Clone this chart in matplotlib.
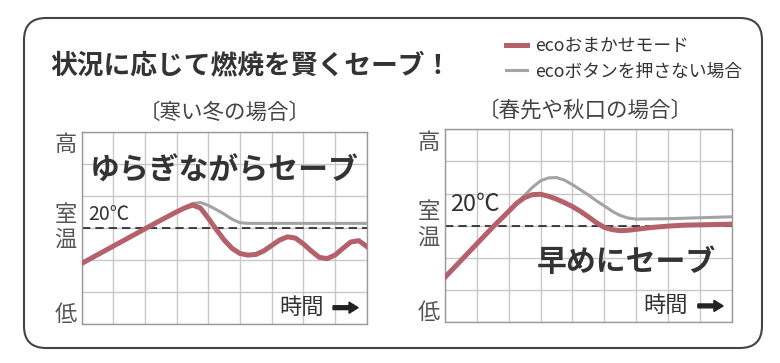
import matplotlib
matplotlib.use('Agg')
import matplotlib.pyplot as plt
from matplotlib.patches import FancyBboxPatch
from matplotlib.transforms import IdentityTransform

plt.rcParams['font.family'] = ['Noto Sans CJK JP', 'DejaVu Sans']

# grid units: x 0..9 (time), y 0..6 (low -> high), 20C at y=3
set_temp = 3

# 寒い冬の場合
winter_eco_x = [0, 0.5, 1, 1.5, 2, 2.5, 3, 3.25, 3.5, 3.75, 4.0, 4.25, 4.5, 4.75, 5.0,
                5.25, 5.5, 5.75, 6.0, 6.25, 6.5, 6.75, 7.0, 7.25, 7.5, 7.75, 8.0,
                8.25, 8.5, 8.75, 9.0]
winter_eco_y = [1.89, 2.16, 2.43, 2.70, 2.97, 3.24, 3.50, 3.62, 3.71, 3.62, 3.30, 2.95,
                2.62, 2.36, 2.20, 2.15, 2.17, 2.28, 2.45, 2.62, 2.72, 2.68, 2.50, 2.28,
                2.08, 2.04, 2.15, 2.36, 2.56, 2.60, 2.42]
winter_off_x = [0, 0.5, 1, 1.5, 2, 2.5, 3, 3.25, 3.5, 3.75, 4.0, 4.25, 4.5, 4.75, 5.0,
                5.25, 5.5, 9.0]
winter_off_y = [1.89, 2.16, 2.43, 2.70, 2.97, 3.24, 3.50, 3.62, 3.76, 3.79, 3.70, 3.57,
                3.43, 3.27, 3.16, 3.14, 3.14, 3.14]

# 春先や秋口の場合
spring_eco_x = [0, 0.5, 1, 1.5, 2.0, 2.25, 2.5, 2.75, 3.0, 3.25, 3.5, 3.75, 4.0, 4.25,
                4.5, 4.75, 5.0, 5.25, 5.5, 5.75, 6.0, 6.5, 7.0, 7.5, 8.0, 9.0]
spring_eco_y = [1.40, 1.92, 2.44, 2.96, 3.45, 3.70, 3.88, 3.97, 3.98, 3.92, 3.83, 3.72,
                3.60, 3.45, 3.28, 3.10, 2.95, 2.88, 2.85, 2.86, 2.89, 2.95, 2.99, 3.02,
                3.03, 3.05]
spring_off_x = [0, 0.5, 1, 1.5, 2.0, 2.25, 2.5, 2.75, 3.0, 3.25, 3.5, 3.75, 4.0, 4.25,
                4.5, 4.75, 5.0, 5.25, 5.5, 5.75, 6.0, 7.0, 8.0, 9.0]
spring_off_y = [1.40, 1.92, 2.44, 2.96, 3.45, 3.70, 3.95, 4.20, 4.40, 4.49, 4.50, 4.42,
                4.28, 4.12, 3.96, 3.78, 3.62, 3.45, 3.32, 3.24, 3.21, 3.22, 3.25, 3.28]

title = '状況に応じて燃焼を賢くセーブ！'
legend_labels = ['ecoおまかせモード', 'ecoボタンを押さない場合']
panel_titles = ['〔寒い冬の場合〕', '〔春先や秋口の場合〕']
panel_msgs = ['ゆらぎながらセーブ', '早めにセーブ']

red = '#b5616b'
gray = '#a3a3a3'
dark = '#333333'

fig = plt.figure(figsize=(7.8, 3.63), dpi=100)

# outer rounded frame (pixel coords)
frame = FancyBboxPatch((24, 15), 738, 330, boxstyle='round,pad=0,rounding_size=22',
                       transform=IdentityTransform(), facecolor='none',
                       edgecolor='#444444', lw=1.5)
fig.patches.append(frame)

fig.text(0.064, 0.821, title, fontsize=19.3, fontweight='bold', color=dark,
         ha='left', va='center')

ax1 = fig.add_axes([0.1047, 0.1074, 0.3654, 0.5298])
ax2 = fig.add_axes([0.5705, 0.1121, 0.3676, 0.5317])

series = [(winter_eco_x, winter_eco_y, winter_off_x, winter_off_y),
          (spring_eco_x, spring_eco_y, spring_off_x, spring_off_y)]

handles = None
for i, ax in enumerate([ax1, ax2]):
    ex, ey, ox, oy = series[i]
    ax.set_xlim(0, 9)
    ax.set_ylim(0, 6)
    ax.set_xticks(range(10))
    ax.set_yticks(range(7))
    ax.tick_params(length=0, labelbottom=False, labelleft=False)
    ax.grid(True, color='#c8c8c8', lw=1)
    for s in ax.spines.values():
        s.set_color('#999999')
        s.set_linewidth(1)
    ax.axhline(set_temp, color='#222222', lw=1.2, dashes=(5, 3), zorder=2)
    l_off, = ax.plot(ox, oy, color=gray, lw=2.2, zorder=3, solid_joinstyle='round')
    l_eco, = ax.plot(ex, ey, color=red, lw=3.6, zorder=4, solid_joinstyle='round')
    if handles is None:
        handles = [l_eco, l_off]

    ax.text(0.5 if i == 0 else 0.49, 1.098, panel_titles[i], transform=ax.transAxes,
            fontsize=15.5, color='#444444', ha='center', va='center')
    for lab, yy in zip(['高', '室', '温', '低'], [0.932, 0.572, 0.44, 0.05]):
        ax.text(-0.057, yy, lab, transform=ax.transAxes, fontsize=16,
                color='#555555', ha='center', va='center')

    ax.text(0.848, 0.085, '時間', transform=ax.transAxes, fontsize=16,
            color=dark, ha='right', va='center')
    ax.arrow(0.882, 0.085, 0.088, 0, width=0.02, head_width=0.058, head_length=0.032,
             length_includes_head=True, transform=ax.transAxes, color='#222222',
             clip_on=False, zorder=5)

ax1.text(0.022, 0.572, '20℃', transform=ax1.transAxes, fontsize=14,
         color=dark, ha='left', va='center')
ax2.text(0.017, 0.609, '20℃', transform=ax2.transAxes, fontsize=17,
         color=dark, ha='left', va='center')

ax1.text(0.5, 0.80, panel_msgs[0], transform=ax1.transAxes, fontsize=21.5,
         fontweight='bold', color=dark, ha='center', va='center', zorder=6)
ax2.text(0.633, 0.314, panel_msgs[1], transform=ax2.transAxes, fontsize=21.5,
         fontweight='bold', color=dark, ha='center', va='center', zorder=6)

fig.legend(handles, legend_labels, loc='upper left',
           bbox_to_anchor=(506 / 780, 1 - 37 / 363), frameon=False,
           fontsize=12.8, handlelength=1.2, handletextpad=0.45,
           labelspacing=0.42, borderpad=0, borderaxespad=0, labelcolor='#333333')

fig.savefig('out.png', dpi=100)
